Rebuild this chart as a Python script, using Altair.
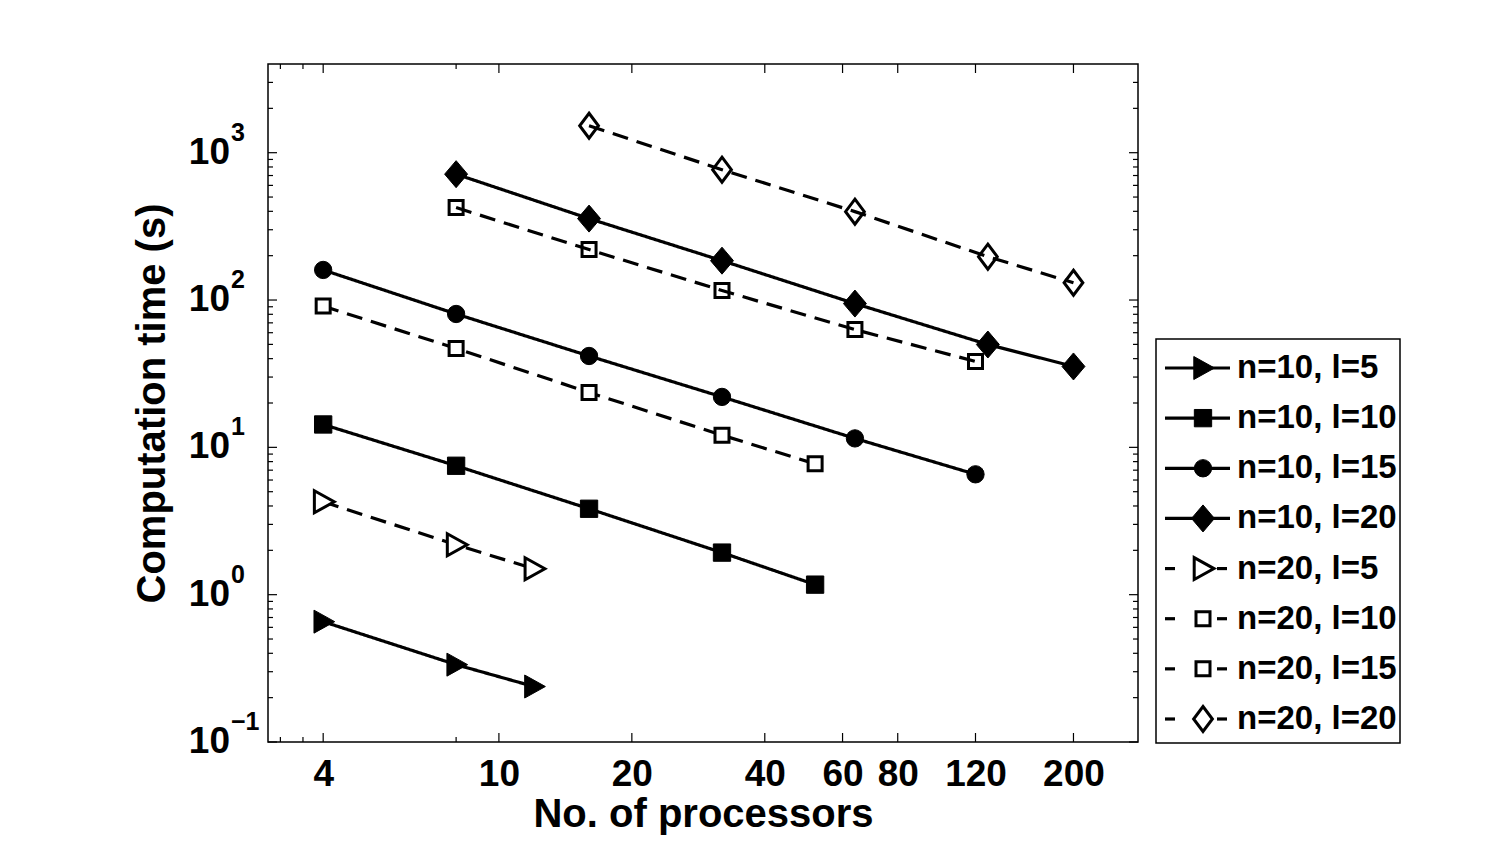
import altair as alt
import pandas as pd

# ---------------- data ----------------
series = ["n=10, l=5", "n=10, l=10", "n=10, l=15", "n=10, l=20",
          "n=20, l=5", "n=20, l=10", "n=20, l=15", "n=20, l=20"]

procs_n10_l5 = [4, 8, 12]
time_n10_l5 = [0.656, 0.335, 0.238]
procs_n10_l10 = [4, 8, 16, 32, 52]
time_n10_l10 = [14.3, 7.5, 3.83, 1.93, 1.17]
procs_n10_l15 = [4, 8, 16, 32, 64, 120]
time_n10_l15 = [160, 80.4, 41.7, 22.0, 11.5, 6.56]
procs_n10_l20 = [8, 16, 32, 64, 128, 200]
time_n10_l20 = [715, 357, 185, 94.6, 49.9, 35.4]
procs_n20_l5 = [4, 8, 12]
time_n20_l5 = [4.27, 2.18, 1.50]
procs_n20_l10 = [4, 8, 16, 32, 52]
time_n20_l10 = [91, 46.9, 23.6, 12.1, 7.73]
procs_n20_l15 = [8, 16, 32, 64, 120]
time_n20_l15 = [424, 220, 116, 63, 38.3]
procs_n20_l20 = [16, 32, 64, 128, 200]
time_n20_l20 = [1524, 767, 398, 197, 131]

x_tick_values = [4, 10, 20, 40, 60, 80, 120, 200]
x_minor_ticks = [3.2, 3.6, 8]
y_tick_values = [0.1, 1, 10, 100, 1000]
y_tick_bases = ["10", "10", "10", "10", "10"]
y_tick_exponents = ["\u22121", "0", "1", "2", "3"]
y_minor_ticks = [m * 10.0 ** k for k in range(-1, 3) for m in range(2, 10)] + [2000, 3000]

all_procs = [procs_n10_l5, procs_n10_l10, procs_n10_l15, procs_n10_l20,
             procs_n20_l5, procs_n20_l10, procs_n20_l15, procs_n20_l20]
all_times = [time_n10_l5, time_n10_l10, time_n10_l15, time_n10_l20,
             time_n20_l5, time_n20_l10, time_n20_l15, time_n20_l20]

rows = []
for name, ps, ts in zip(series, all_procs, all_times):
    for p, t in zip(ps, ts):
        rows.append({"series": name, "procs": p, "time": t})
df = pd.DataFrame(rows)

legend_df = pd.DataFrame({"series": series,
                          "style": ["solid"] * 4 + ["dashed"] * 4})

# ---------------- styles ----------------
FONT = "Liberation Sans"
W, H = 870, 678
tri = "M-0.8,-1L1,0L-0.8,1Z"
dia_f = "M0,-1L0.85,0L0,1L-0.85,0Z"
dia_o = "M0,-1L0.75,0L0,1L-0.75,0Z"
shape_range = [tri, "square", "circle", dia_f, tri, "square", "square", dia_o]
size_range = [529, 300, 300, 729, 484, 196, 196, 625]
fill_range = ["black"] * 4 + ["white", "white", "transparent", "transparent"]
sw_range = [1, 1, 1, 1, 3, 3, 3, 3]
dash_range = [[1, 0]] * 4 + [[16, 9]] * 4

xs = alt.Scale(type="log", domain=[3, 280], nice=False)
ys = alt.Scale(type="log", domain=[0.1, 4000], nice=False)


def marker_enc():
    return dict(
        shape=alt.Shape("series:N", scale=alt.Scale(domain=series, range=shape_range), legend=None),
        fill=alt.Fill("series:N", scale=alt.Scale(domain=series, range=fill_range), legend=None),
        size=alt.Size("series:N", scale=alt.Scale(type="ordinal", domain=series, range=size_range), legend=None),
        strokeWidth=alt.StrokeWidth("series:N", scale=alt.Scale(type="ordinal", domain=series, range=sw_range),
                                    legend=None),
    )


x_axis = alt.Axis(values=x_tick_values, format="d", ticks=False, domain=False, grid=False,
                  labelFont=FONT, labelFontSize=37, labelFontWeight="bold", labelColor="black",
                  labelPadding=14, labelOverlap=False, labelFlush=False,
                  title="No. of processors", titleFont=FONT, titleFontSize=40,
                  titleFontWeight="bold", titleColor="black", titleY=52, titleBaseline="top")
y_axis = alt.Axis(values=y_tick_values, labels=False, ticks=False, domain=False, grid=False,
                  title="Computation time (s)", titleFont=FONT, titleFontSize=40,
                  titleFontWeight="bold", titleColor="black", titleX=-136, titleBaseline="top")


def X(field):
    return alt.X(field, scale=xs, axis=x_axis)


def Y(field):
    return alt.Y(field, scale=ys, axis=y_axis)


lines = alt.Chart(df).mark_line(color="black", strokeWidth=3.2).encode(
    x=X("procs:Q"),
    y=Y("time:Q"),
    detail="series:N",
    order="procs:Q",
    strokeDash=alt.StrokeDash("series:N", scale=alt.Scale(domain=series, range=dash_range), legend=None),
)

points = alt.Chart(df).mark_point(stroke="black", opacity=1).encode(
    x=X("procs:Q"),
    y=Y("time:Q"),
    **marker_enc(),
)

xmaj = pd.DataFrame({"v": x_tick_values})
xmin = pd.DataFrame({"v": x_minor_ticks})
ymaj = pd.DataFrame({"v": y_tick_values})
ymin = pd.DataFrame({"v": y_minor_ticks})


def xticks(d, length, top):
    return alt.Chart(d).mark_rule(color="black", strokeWidth=1.2).encode(
        x=X("v:Q"),
        y=alt.value(0 if top else H),
        y2=alt.value(length if top else H - length),
    )


def yticks(d, length, right):
    return alt.Chart(d).mark_rule(color="black", strokeWidth=1.2).encode(
        y=Y("v:Q"),
        x=alt.value(W if right else 0),
        x2=alt.value(W - length if right else length),
    )


tick_layers = [xticks(xmaj, 9, False), xticks(xmaj, 9, True),
               xticks(xmin, 5, False), xticks(xmin, 5, True),
               yticks(ymaj, 9, False), yticks(ymaj, 9, True),
               yticks(ymin, 5, False), yticks(ymin, 5, True)]

ylab_df = pd.DataFrame({"v": y_tick_values, "base": y_tick_bases, "exp": y_tick_exponents})
ylab_base = alt.Chart(ylab_df).mark_text(align="right", baseline="middle", font=FONT,
                                         fontSize=37, fontWeight="bold", color="black").encode(
    x=alt.value(-38), y=Y("v:Q"), text="base:N")
ylab_exp = alt.Chart(ylab_df).mark_text(align="left", baseline="middle", font=FONT,
                                        fontSize=25, fontWeight="bold", color="black", dy=-20).encode(
    x=alt.value(-37), y=Y("v:Q"), text="exp:N")

main = alt.layer(lines, points, *tick_layers, ylab_base, ylab_exp)

# ---------------- legend ----------------
ly = alt.Y("series:N", scale=alt.Scale(type="point", domain=series, range=[304, 655], padding=0), axis=None)

box = alt.Chart(alt.Data(values=[{"a": 1}])).mark_rect(fill="white", stroke="black", strokeWidth=1.5).encode(
    x=alt.value(888), x2=alt.value(1132), y=alt.value(275), y2=alt.value(679))
solid_seg = alt.Chart(legend_df).transform_filter(alt.datum.style == "solid").mark_rule(
    color="black", strokeWidth=3.2).encode(x=alt.value(897), x2=alt.value(962), y=ly)
dash_l = alt.Chart(legend_df).transform_filter(alt.datum.style == "dashed").mark_rule(
    color="black", strokeWidth=3.2).encode(x=alt.value(897), x2=alt.value(907), y=ly)
dash_r = alt.Chart(legend_df).transform_filter(alt.datum.style == "dashed").mark_rule(
    color="black", strokeWidth=3.2).encode(x=alt.value(949), x2=alt.value(959), y=ly)
leg_pts = alt.Chart(legend_df).mark_point(stroke="black", opacity=1).encode(
    x=alt.value(935), y=ly, **marker_enc())
leg_txt = alt.Chart(legend_df).mark_text(align="left", baseline="middle", font=FONT, fontSize=33,
                                         fontWeight="bold", color="black").encode(
    x=alt.value(969), y=ly, text="series:N")

legend = alt.layer(box, solid_seg, dash_l, dash_r, leg_pts, leg_txt)

chart = alt.layer(main, legend).resolve_scale(y="independent").properties(
    width=W, height=H,
    padding={"left": 132, "top": 63, "right": 5, "bottom": 5},
    background="white",
).configure_view(stroke="black", strokeWidth=1.5)

chart.save("out.html", embed_options={"renderer": "svg", "actions": False})
